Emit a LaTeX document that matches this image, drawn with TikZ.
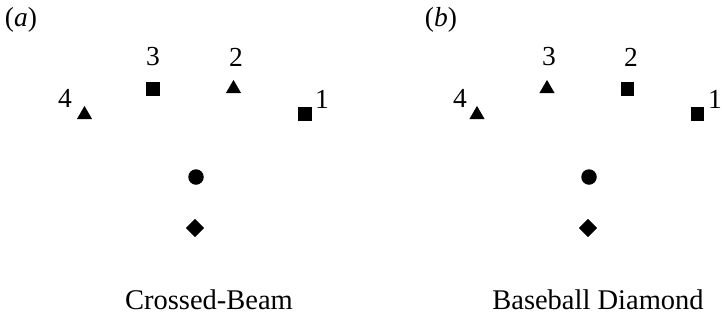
\documentclass[tikz,border=0pt]{standalone}
\usepackage{fontspec}
\setmainfont{Liberation Serif}
\usetikzlibrary{shapes.geometric}
\begin{document}
\begin{tikzpicture}[x=1pt,y=-1pt,
  sq/.style={rectangle,fill=black,inner sep=0pt,minimum size=13.5pt},
  tri/.style={regular polygon,regular polygon sides=3,fill=black,inner sep=0pt,minimum size=17.6pt},
  dot/.style={circle,fill=black,inner sep=0pt,minimum size=15.5pt},
  dia/.style={diamond,fill=black,inner sep=0pt,minimum size=18.5pt},
  lbl/.style={inner sep=0pt,font=\fontsize{27.5}{33}\selectfont},
  captxt/.style={inner sep=0pt,font=\fontsize{28.5}{34}\selectfont}]
\useasboundingbox (0,0) rectangle (722,325);
% panel (a)
\node[lbl] (pa) at (21,20) {(\textit{a})};
\node[tri] (a4) at (84.5,114.7) {};
\node[lbl] (a4l) at (65,98) {4};
\node[sq]  (a3) at (153,89) {};
\node[lbl] (a3l) at (153,57) {3};
\node[tri] (a2) at (233.5,88.7) {};
\node[lbl] (a2l) at (236,57) {2};
\node[sq]  (a1) at (305,114) {};
\node[lbl] (a1l) at (322,99) {1};
\node[dot] (ac) at (196,177) {};
\node[dia] (ad) at (195,228) {};
\node[captxt] (acap) at (209,300) {Crossed-Beam};
% panel (b)
\node[lbl] (pb) at (441,20) {(\textit{b})};
\node[tri] (b4) at (477,114.7) {};
\node[lbl] (b4l) at (460,98) {4};
\node[tri] (b3) at (547,88.7) {};
\node[lbl] (b3l) at (549,57) {3};
\node[sq]  (b2) at (627.5,89) {};
\node[lbl] (b2l) at (631,57) {2};
\node[sq]  (b1) at (697.5,114) {};
\node[lbl,anchor=east] (b1l) at (722,99) {1};
\node[dot] (bc) at (589,177) {};
\node[dia] (bd) at (588,228) {};
\node[captxt] (bcap) at (598,300) {Baseball Diamond};
\end{tikzpicture}
\end{document}
